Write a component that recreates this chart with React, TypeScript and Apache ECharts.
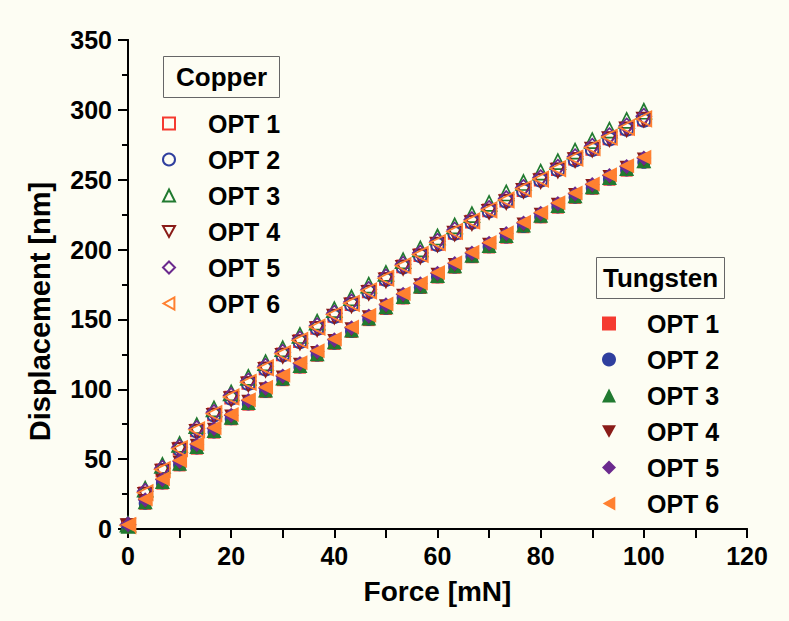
import React, { useEffect, useRef } from "react";
import * as echarts from "echarts";

const force = [0, 3.33, 6.67, 10, 13.33, 16.67, 20, 23.33, 26.67, 30, 33.33, 36.67, 40, 43.33, 46.67, 50, 53.33, 56.67, 60, 63.33, 66.67, 70, 73.33, 76.67, 80, 83.33, 86.67, 90, 93.33, 96.67, 100];

const cuOpt1 = [2, 25.5, 42, 57.5, 70.5, 82, 94, 104.5, 115, 125, 134.5, 144, 152.5, 161, 170, 179, 188, 196, 204, 212, 220, 228, 235, 242.5, 250, 257.5, 265, 272, 279.5, 286.5, 293];
const cuOpt2 = [2.5, 25, 42, 57, 70, 81.5, 93.5, 104, 114.5, 124.5, 134, 143.5, 152, 160.5, 169.5, 178.5, 187.5, 195.5, 203.5, 211.5, 219.5, 227.5, 234.5, 242, 249.5, 257, 264, 271.5, 279, 286, 292.5];
const cuOpt3 = [3.5, 28.5, 45.5, 60.5, 74, 86, 97.5, 108.5, 119, 129, 138.5, 148, 157, 165.5, 174.5, 183, 192, 200.5, 209, 217, 225, 233, 240.5, 248, 255.5, 263, 270.5, 278, 285.5, 292.5, 299];
const cuOpt4 = [2, 24.5, 41, 56.5, 69.5, 81, 93, 103.5, 114, 124, 133.5, 143, 152, 160, 169, 178, 187, 195, 203.5, 211.5, 219, 227, 234, 242, 249, 256.5, 264, 271.5, 279, 286, 293];
const cuOpt5 = [3, 27, 43.5, 58.5, 72, 83.5, 95.5, 106, 116.5, 126.5, 136, 145.5, 154.5, 162.5, 171.5, 180.5, 189.5, 197.5, 206, 214, 221.5, 229.5, 236.5, 244.5, 251.5, 259, 266.5, 274, 281.5, 288.5, 295.5];
const cuOpt6 = [2.5, 26, 42.5, 57.5, 71, 82.5, 94.5, 105, 115.5, 125.5, 135, 144.5, 153.5, 161.5, 170.5, 179.5, 188.5, 196.5, 205, 213, 220.5, 228.5, 235.5, 243.5, 250.5, 258, 265.5, 273, 280.5, 287.5, 293.5];

const wOpt1 = [1.5, 18, 32.5, 45.5, 57.5, 69, 78.5, 89, 98, 106.5, 115.5, 124, 132.5, 141, 149.5, 157.5, 165, 172.5, 180, 187, 194.5, 201.5, 208.5, 216, 223, 230, 237, 243.5, 250, 256.5, 262.5];
const wOpt2 = [2, 18.5, 33, 46, 58, 69.5, 79, 89.5, 98.5, 107, 116, 124.5, 133, 141.5, 150, 158, 165.5, 173, 180.5, 187.5, 195, 202, 209, 216.5, 223.5, 230.5, 237.5, 244, 250.5, 257, 262.5];
const wOpt3 = [2, 19.5, 34, 47, 59, 70.5, 80, 90.5, 99.5, 108, 117, 125.5, 134, 142.5, 151, 159, 166.5, 174, 181.5, 188.5, 196, 203, 210, 217.5, 224.5, 231.5, 238.5, 245, 251.5, 258, 263.5];
const wOpt4 = [2.5, 20, 34.5, 47.5, 59.5, 71, 80.5, 91, 100, 108.5, 117.5, 126, 134.5, 143, 151.5, 159.5, 167, 174.5, 182, 189, 196.5, 203.5, 210.5, 218, 225, 232, 239, 245.5, 252, 258.5, 264.5];
const wOpt5 = [3, 21, 35.5, 48.5, 60.5, 72, 81.5, 92, 101, 109.5, 118.5, 127, 135.5, 144, 152.5, 160.5, 168, 175.5, 183, 190, 197.5, 204.5, 211.5, 219, 226, 233, 240, 246.5, 253, 259.5, 265.5];
const wOpt6 = [3, 21.5, 36, 49, 61, 72.5, 82, 92.5, 101.5, 110, 119, 127.5, 136, 144.5, 153, 161, 168.5, 176, 183.5, 190.5, 198, 205, 212, 219.5, 226.5, 233.5, 240.5, 247, 253.5, 260, 266];

const optNames = ["OPT 1", "OPT 2", "OPT 3", "OPT 4", "OPT 5", "OPT 6"];
const copperData = [cuOpt1, cuOpt2, cuOpt3, cuOpt4, cuOpt5, cuOpt6];
const tungstenData = [wOpt1, wOpt2, wOpt3, wOpt4, wOpt5, wOpt6];

const colors = ["#f53a30", "#2f3f9e", "#217a30", "#8a1c18", "#6b2a8e", "#ff8030"];
const symbols = [
  "rect",
  "circle",
  "triangle",
  "path://M0,0L2,0L1,1.8Z",
  "diamond",
  "path://M1.8,0L1.8,2L0,1Z",
];
const sizes = [12, 13, 15, 14, 15, 15];

const FONT = "'Liberation Sans', Arial, Helvetica, sans-serif";

export default function App() {
  const ref = useRef<HTMLDivElement>(null);

  useEffect(() => {
    document.body.style.margin = "0";
    document.body.style.background = "#fdfdf3";
    if (!ref.current) return;
    const chart = echarts.init(ref.current, undefined, { renderer: "svg" });

    const pts = (ys: number[]) => force.map((x, i) => [x, ys[i]]);

    const series: any[] = [];
    copperData.forEach((ys, k) => {
      series.push({
        name: "Cu " + optNames[k],
        type: "scatter",
        data: pts(ys),
        symbol: symbols[k],
        symbolSize: sizes[k],
        itemStyle: { color: "rgba(255,255,255,0)", borderColor: colors[k], borderWidth: 1.7, opacity: 1 },
        xAxisIndex: 0,
        yAxisIndex: 0,
      });
    });
    tungstenData.forEach((ys, k) => {
      series.push({
        name: "W " + optNames[k],
        type: "scatter",
        data: pts(ys),
        symbol: symbols[k],
        symbolSize: sizes[k],
        itemStyle: { color: colors[k], borderWidth: 0, opacity: 1 },
        xAxisIndex: 0,
        yAxisIndex: 0,
      });
    });

    const axisLine = { show: true, lineStyle: { color: "#000", width: 2 } };
    const labelStyle = { color: "#000", fontSize: 25, fontWeight: "bold" as const, fontFamily: FONT };
    const legendText = (pad: number) => ({
      color: "#000",
      fontSize: 25,
      fontWeight: "bold" as const,
      fontFamily: FONT,
      lineHeight: 25,
      padding: [0, 0, 0, pad],
    });

    chart.setOption({
      animation: false,
      backgroundColor: "#fdfdf3",
      grid: { left: 128, right: 42, top: 40, bottom: 92, containLabel: false },
      title: [
        {
          text: "Copper",
          left: 163,
          top: 56,
          padding: [8, 13],
          borderWidth: 1,
          borderColor: "#666",
          textStyle: { color: "#000", fontSize: 26, fontWeight: "bold", fontFamily: FONT, lineHeight: 26 },
        },
        {
          text: "Tungsten",
          left: 596,
          top: 257,
          padding: [8, 7],
          borderWidth: 1,
          borderColor: "#666",
          textStyle: { color: "#000", fontSize: 26, fontWeight: "bold", fontFamily: FONT, lineHeight: 26 },
        },
      ],
      legend: [
        {
          data: optNames.map((n) => "Cu " + n),
          orient: "vertical",
          left: 162,
          top: 111,
          padding: 0,
          itemWidth: 12,
          itemHeight: 12,
          itemGap: 11,
          formatter: (n: string) => n.replace(/^(Cu|W) /, ""),
          textStyle: legendText(28),
          selectedMode: false,
        },
        {
          data: optNames.map((n) => "W " + n),
          orient: "vertical",
          left: 602,
          top: 311,
          padding: 0,
          itemWidth: 14,
          itemHeight: 14,
          itemGap: 11,
          formatter: (n: string) => n.replace(/^(Cu|W) /, ""),
          textStyle: legendText(26),
          selectedMode: false,
        },
      ],
      xAxis: [
        {
          type: "value",
          position: "bottom",
          min: 0,
          max: 120,
          interval: 20,
          name: "Force [mN]",
          nameLocation: "middle",
          nameGap: 48,
          nameTextStyle: { color: "#000", fontSize: 28, fontWeight: "bold", fontFamily: FONT },
          axisLine,
          axisTick: { show: true, inside: false, length: 8, lineStyle: { color: "#000", width: 2 } },
          minorTick: { show: true, splitNumber: 2, length: 8, lineStyle: { color: "#000", width: 2 } },
          axisLabel: { ...labelStyle, margin: 14 },
          splitLine: { show: false },
        },
        {
          type: "value",
          position: "top",
          min: 0,
          max: 120,
          interval: 20,
          axisLine,
          axisTick: { show: true, inside: true, length: 9, lineStyle: { color: "#000", width: 2 } },
          minorTick: { show: true, splitNumber: 2, length: 9, lineStyle: { color: "#000", width: 2 } },
          axisLabel: { show: false },
          splitLine: { show: false },
        },
      ],
      yAxis: [
        {
          type: "value",
          position: "left",
          min: 0,
          max: 350,
          interval: 50,
          name: "Displacement [nm]",
          nameLocation: "middle",
          nameGap: 74,
          nameTextStyle: {
            color: "#000",
            fontSize: 29,
            fontWeight: "bold",
            fontFamily: FONT,
            padding: [0, 54, 0, 0],
          },
          axisLine,
          axisTick: { show: true, inside: false, length: 10, lineStyle: { color: "#000", width: 2 } },
          minorTick: { show: true, splitNumber: 2, length: 6, lineStyle: { color: "#000", width: 2 } },
          axisLabel: { ...labelStyle, margin: 16 },
          splitLine: { show: false },
        },
        {
          type: "value",
          position: "right",
          min: 0,
          max: 350,
          interval: 50,
          axisLine,
          axisTick: { show: true, inside: true, length: 10, lineStyle: { color: "#000", width: 2 } },
          minorTick: { show: true, splitNumber: 2, length: 6, lineStyle: { color: "#000", width: 2 } },
          axisLabel: { show: false },
          splitLine: { show: false },
        },
      ],
      series,
    });

    return () => chart.dispose();
  }, []);

  return <div ref={ref} style={{ width: 789, height: 621 }} />;
}
